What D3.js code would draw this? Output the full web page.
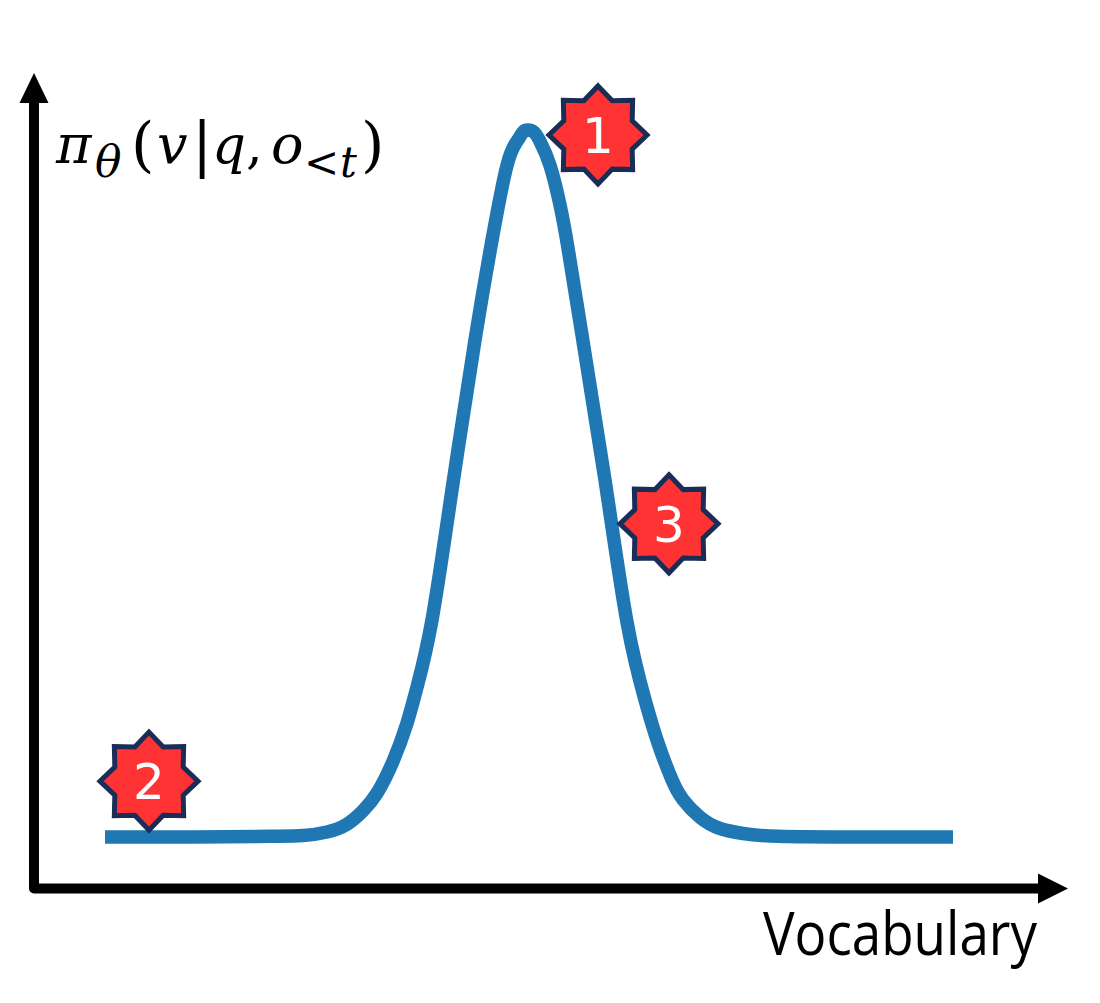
<!DOCTYPE html>
<html>
<head>
<meta charset="utf-8">
<script src="https://cdn.jsdelivr.net/npm/d3@7"></script>
<style>
  html, body { margin: 0; padding: 0; background: #fff; }
  svg { display: block; }
</style>
</head>
<body>
<div id="chart"></div>
<script>
// curve: position along the vocabulary, probability (0-1)
var vocab = [0, 90, 165, 198, 222, 242, 258, 272, 288, 302, 312, 327, 347, 370, 387, 402, 412, 418,
    423, 429, 435, 445, 455, 463, 477, 500, 522, 540, 553, 567, 578, 595, 615, 638, 673, 760, 848];
var prob = [0, 0, 0.001, 0.002, 0.007, 0.018, 0.037, 0.062, 0.107, 0.161, 0.212, 0.307, 0.491, 0.703, 0.844, 0.950, 0.984, 0.997,
    1, 0.997, 0.984, 0.950, 0.894, 0.833, 0.710, 0.505, 0.304, 0.194, 0.133, 0.081, 0.053, 0.028, 0.012, 0.005, 0.001, 0, 0];

var badge_labels = ["1", "2", "3"];
var badge_vocab = [493, 44, 564];
var badge_prob = [0.993, 0.079, 0.443];

var x_label = "Vocabulary";

var width = 1100;
var height = 1003;
var axis_left = 34;
var axis_bottom = 888.5;

var x = d3.scaleLinear().domain([0, 848]).range([105, 953]);
var y = d3.scaleLinear().domain([0, 1]).range([837, 130]);

var svg = d3.select("#chart").append("svg")
        .attr("width", width)
        .attr("height", height);

// axes, no ticks in this one
svg.append("path")
        .attr("d", d3.line()([[axis_left, 103], [axis_left, axis_bottom], [1038, axis_bottom]]))
        .attr("fill", "none")
        .attr("stroke", "black")
        .attr("stroke-width", 10)
        .attr("stroke-linejoin", "round");
svg.append("path")
        .attr("d", d3.line()([[axis_left - 14.5, 103], [axis_left, 73], [axis_left + 14.5, 103]]) + "Z")
        .attr("fill", "black");
svg.append("path")
        .attr("d", d3.line()([[1038, axis_bottom - 15], [1068, axis_bottom], [1038, axis_bottom + 15]]) + "Z")
        .attr("fill", "black");

var curve = d3.line()
        .x(function(d) { return x(d[0]); })
        .y(function(d) { return y(d[1]); })
        .curve(d3.curveNatural);

svg.append("path")
        .attr("d", curve(d3.zip(vocab, prob)))
        .attr("fill", "none")
        .attr("stroke", "#1f77b4")
        .attr("stroke-width", 13.5);

// 8 point star badges
var star_pts = d3.range(16).map(function(i) {
    return [i * Math.PI / 8, i % 2 == 0 ? 49 : 37];
});
var star = d3.lineRadial().curve(d3.curveLinearClosed)(star_pts);

badge_labels.forEach(function(lb, i) {
    var g = svg.append("g")
            .attr("transform", "translate(" + x(badge_vocab[i]) + "," + y(badge_prob[i]) + ")");
    g.append("path")
            .attr("d", star)
            .attr("fill", "#ff3333")
            .attr("stroke", "#1a2d57")
            .attr("stroke-width", 5)
            .attr("stroke-linejoin", "miter")
            .attr("stroke-miterlimit", 10);
    g.append("text")
            .attr("y", 18)
            .attr("text-anchor", "middle")
            .attr("font-family", "'Comic Sans MS', 'DejaVu Sans', sans-serif")
            .attr("font-size", "50px")
            .attr("fill", "white")
            .text(lb);
});

svg.append("text")
        .attr("x", 763)
        .attr("y", 955)
        .attr("font-family", "'Comic Sans MS', 'Open Sans', sans-serif")
        .attr("font-size", "60px")
        .attr("textLength", 274)
        .attr("lengthAdjust", "spacingAndGlyphs")
        .attr("fill", "black")
        .text(x_label);

// y label, each piece placed by hand like an equation editor would
var y_label = svg.append("text")
        .attr("font-family", "'DejaVu Serif', serif")
        .attr("fill", "black");
var pieces = [
    ["\u03C0", 56, 163, 54, "italic"],
    ["\u03B8", 95, 177, 44, "italic"],
    ["(", 131, 165, 60, "normal"],
    ["v", 157, 163, 54, "italic"],
    ["|", 192, 165, 60, "normal"],
    ["q", 212, 163, 53, "italic"],
    [",", 246, 163, 53, "normal"],
    ["o", 271, 163, 54, "italic"],
    ["<", 304, 177, 42, "normal"],
    ["t", 340, 177, 42, "italic"],
    [")", 361, 165, 60, "normal"]
];
pieces.forEach(function(p) {
    y_label.append("tspan")
            .attr("x", p[1])
            .attr("y", p[2])
            .attr("font-size", p[3] + "px")
            .attr("font-style", p[4])
            .text(p[0]);
});
</script>
</body>
</html>
